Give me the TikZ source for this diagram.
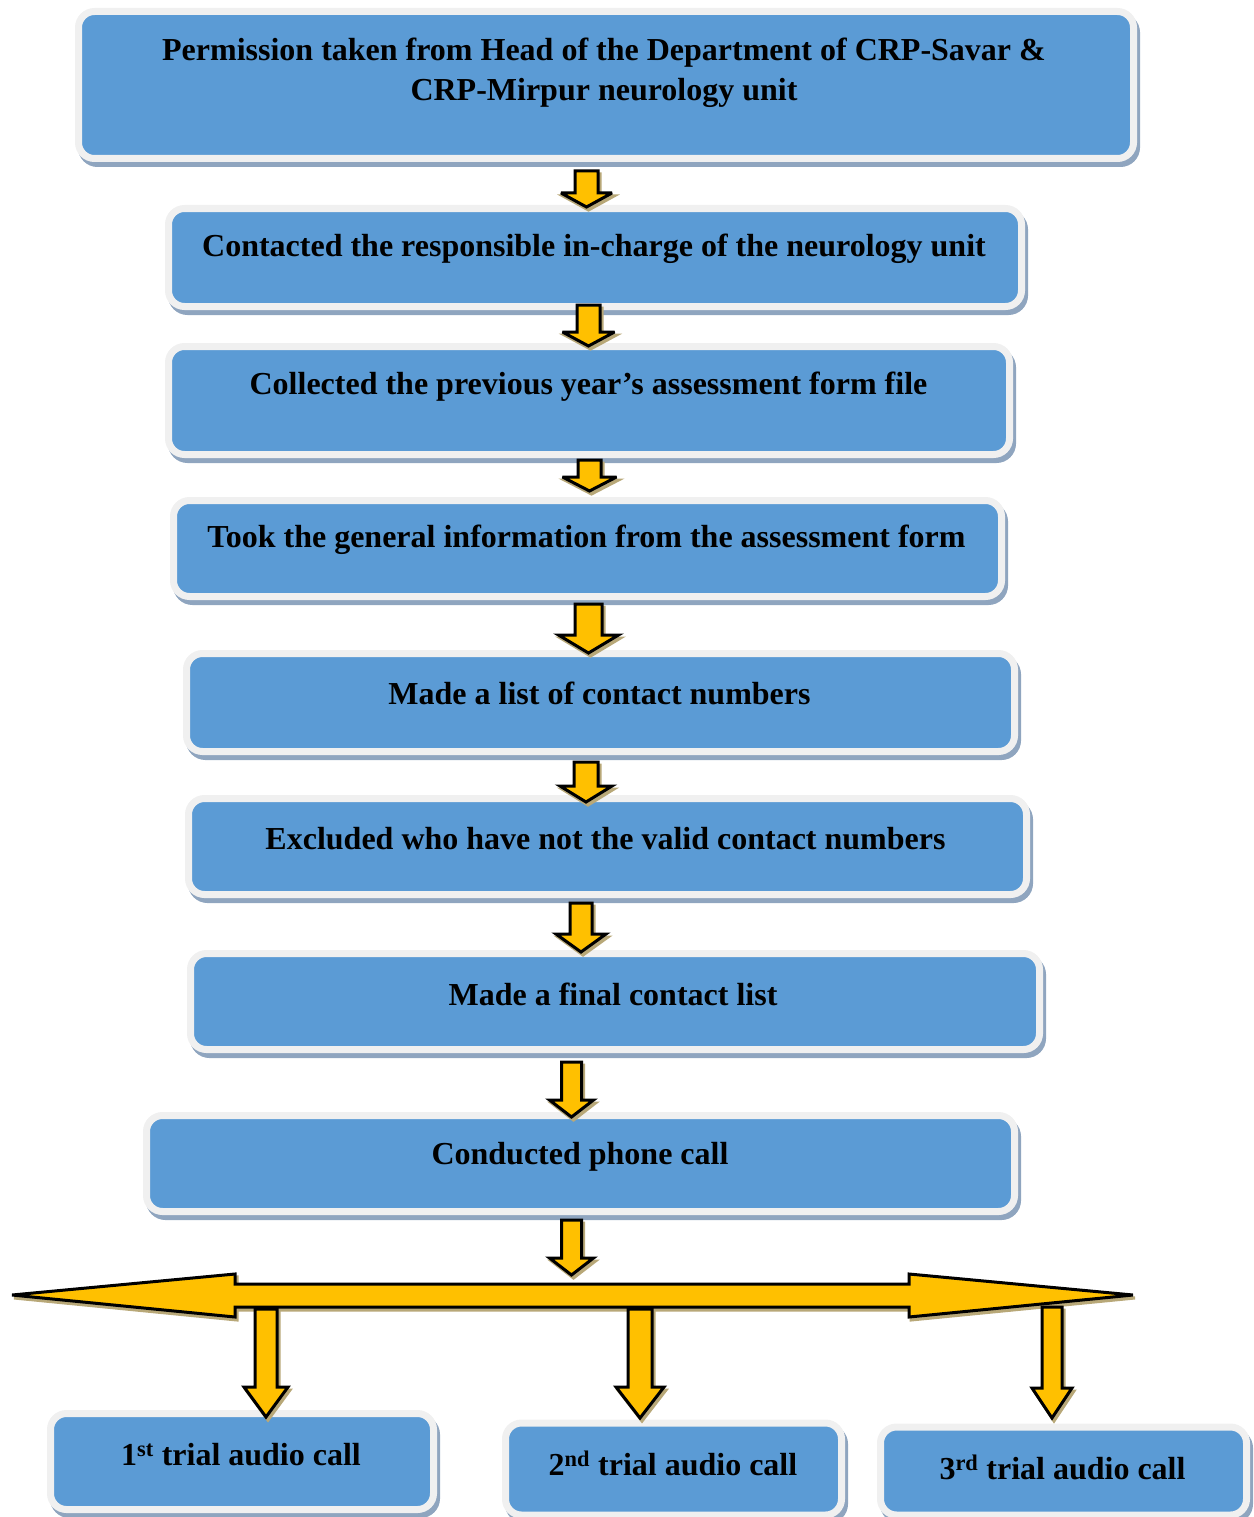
\documentclass[tikz,border=0pt]{standalone}
\usepackage{fontspec}
\setmainfont{Liberation Serif}
\definecolor{boxblue}{HTML}{5B9BD5}
\definecolor{boxrim}{HTML}{F0F0F0}
\definecolor{boxshadow}{HTML}{8FA5BF}
\definecolor{arrowgold}{HTML}{FFC000}
\definecolor{arrowshadow}{HTML}{B8A878}
\tikzset{
  flowbox/.style={rounded corners=16pt, fill=boxblue, draw=boxrim, line width=7pt, inner sep=0pt,
    preaction={draw=boxshadow, fill=boxshadow, line width=7pt, transform canvas={xshift=3pt,yshift=-5pt}}},
  boxtext/.style={font=\bfseries\fontsize{32}{40}\selectfont, align=center, inner sep=0pt, text=black},
  blockarrow/.style={fill=arrowgold, draw=black, line width=3pt, line join=miter, miter limit=4,
    preaction={fill=arrowshadow, draw=arrowshadow, line width=3pt, transform canvas={xshift=2pt,yshift=-3pt}}},
}
% #1 x centre, #2 shaft half width, #3 head half width, #4 top y, #5 head base y, #6 tip y
\newcommand\blockdown[6]{%
  \draw[blockarrow] (#1-#2,#4) -- (#1+#2,#4) -- (#1+#2,#5) -- (#1+#3,#5) -- (#1,#6)
    -- (#1-#3,#5) -- (#1-#2,#5) -- cycle;}
\begin{document}
\begin{tikzpicture}[x=1pt,y=-1pt]
\useasboundingbox (0,0) rectangle (1253,1517);
% boxes
\node[flowbox, minimum width=1055, minimum height=147] (b1) at (606,85) {};
\node[flowbox, minimum width=853, minimum height=98] (b2) at (595,257.5) {};
\node[flowbox, minimum width=841, minimum height=108] (b3) at (589,400.5) {};
\node[flowbox, minimum width=828, minimum height=96] (b4) at (587.5,548.5) {};
\node[flowbox, minimum width=828, minimum height=98] (b5) at (600.5,702.5) {};
\node[flowbox, minimum width=838, minimum height=96] (b6) at (607.5,846.5) {};
\node[flowbox, minimum width=849, minimum height=96] (b7) at (615,1001.5) {};
\node[flowbox, minimum width=868, minimum height=96] (b8) at (580.5,1163.5) {};
\node[flowbox, minimum width=383, minimum height=96] (b9) at (242,1461.5) {};
\node[flowbox, minimum width=336, minimum height=92] (b10) at (673.5,1469) {};
\node[flowbox, minimum width=366, minimum height=88] (b11) at (1063.5,1471) {};
% texts
\node[boxtext] (t1) at (604,73) {Permission taken from Head of the Department of CRP-Savar \&\\CRP-Mirpur neurology unit};
\node[boxtext] (t2) at (594,249) {Contacted the responsible in-charge of the neurology unit};
\node[boxtext] (t3) at (588.5,387) {Collected the previous year’s assessment form file};
\node[boxtext] (t4) at (586.5,540) {Took the general information from the assessment form};
\node[boxtext] (t5) at (599.5,693) {Made a list of contact numbers};
\node[boxtext] (t6) at (605.5,839) {Excluded who have not the valid contact numbers};
\node[boxtext] (t7) at (613,994) {Made a final contact list};
\node[boxtext] (t8) at (580,1157) {Conducted phone call};
\node[boxtext] (t9) at (241,1455) {1\textsuperscript{st} trial audio call};
\node[boxtext] (t10) at (673,1463) {2\textsuperscript{nd} trial audio call};
\node[boxtext] (t11) at (1062.5,1467) {3\textsuperscript{rd} trial audio call};
% arrows between boxes
\blockdown{586.5}{11.5}{25.5}{171}{193}{207}
\blockdown{588.5}{11.5}{26}{305}{332}{346}
\blockdown{589.5}{11.5}{27}{460}{477}{491}
\blockdown{588.5}{13.5}{30}{604}{635}{653}
\blockdown{586}{12}{26}{762}{786}{802}
\blockdown{581}{11}{25}{903}{934}{952}
\blockdown{571.5}{10}{22}{1062}{1100}{1117}
\blockdown{571.5}{10}{22}{1220}{1258}{1275}
% double-headed bar
\draw[blockarrow] (12,1295) -- (235,1274) -- (235,1284) -- (909,1284) -- (909,1274) -- (1133,1295)
  -- (909,1317) -- (909,1307) -- (235,1307) -- (235,1317) -- cycle;
% arrows to trial boxes
\blockdown{266}{11}{22}{1309}{1387}{1417}
\blockdown{640}{12}{24}{1309}{1387}{1418}
\blockdown{1052}{10}{20}{1307}{1388}{1418}
\end{tikzpicture}
\end{document}
